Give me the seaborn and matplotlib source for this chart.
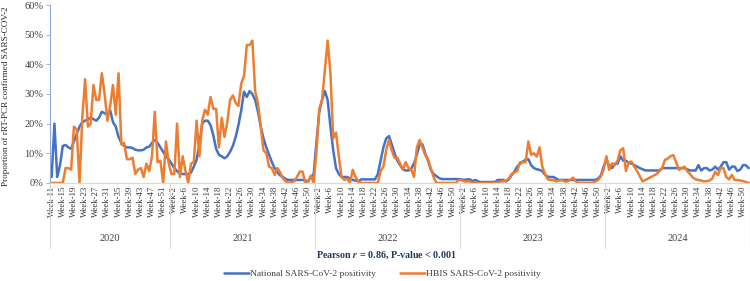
import numpy as np
import pandas as pd
import matplotlib
matplotlib.use("Agg")
import matplotlib.pyplot as plt
from matplotlib.transforms import blended_transform_factory
from matplotlib.ticker import PercentFormatter
import seaborn as sns

# Weekly positivity (%), 2020 W11 .. 2024 W52
years = [2020, 2021, 2022, 2023, 2024]
first_week = [11, 1, 1, 1, 1]
last_week = [53, 52, 52, 52, 52]

national_2020 = [2, 20, 2, 6, 12.5, 12.8, 12, 11.5, 14, 16.5, 19, 20.5, 21, 21.5, 22,
                 21.5, 21, 22, 24, 23.5, 23, 24.5, 20.5, 19, 15.5, 13.5, 12.5, 12, 12,
                 11.8, 11.2, 11, 11, 11.2, 12, 12.2, 13.5, 14.5, 13.5, 12, 10.5, 9, 8]
national_2021 = [6.5, 5, 4, 3.2, 3, 3, 3, 3.5, 5.5, 7.8, 13, 20, 21, 21, 19.5, 16, 11.5,
                 9.5, 9, 8.3, 9, 10.5, 12.5, 15.5, 19.5, 24.5, 30.8, 29, 31, 30, 28, 24,
                 19, 15, 12, 9.5, 7, 5, 3.6, 2.5, 2, 1.3, 1, 1, 1, 1, 1, 1, 0.8, 0.5, 2, 3]
national_2022 = [14, 24, 28, 31, 28, 19, 11, 5, 3, 2, 2, 2, 1.5, 1, 0.8, 0.5, 1.2, 1.2,
                 1.2, 1.2, 1.2, 1.2, 3, 7.5, 12, 15, 15.8, 13, 10, 7.5, 6, 4.6, 4.2, 4.2,
                 4.8, 6.6, 9.5, 13, 13, 10, 7.5, 4.5, 3, 2.3, 1.6, 1.3, 1.3, 1.3, 1.3,
                 1.3, 1.3, 1.3]
national_2023 = [1.2, 1, 1.2, 1.2, 0.6, 1, 0.5, 0.3, 0.3, 0.3, 0.3, 0.3, 0.3, 1, 1, 1,
                 0.5, 1.2, 2.7, 3.8, 5.5, 6.5, 7.2, 7.8, 8, 6, 5, 4.6, 4.4, 4, 2.7, 2.1,
                 2, 2, 1.5, 1, 1, 1, 1, 1, 1, 1, 1, 1, 1, 1, 1, 1, 1, 1.5, 2.5, 5.5]
national_2024 = [8, 5.5, 5, 6.5, 6.5, 9, 7.5, 7.5, 6.8, 6.5, 6, 5.5, 5, 4.6, 4.2, 4.2,
                 4.2, 4.2, 4.2, 4.2, 5, 5, 5, 5, 5, 5, 5, 5, 5, 4.6, 4.2, 4.2, 4.2, 6,
                 4.2, 5, 5, 4.2, 4.5, 5.5, 4.5, 5.5, 7, 7, 4.5, 5.5, 5.5, 4, 4.5, 6, 6, 5]

hbis_2020 = [0, 0, 0, 0, 0, 5, 5, 4.5, 19, 18, 0, 22, 35, 19, 20, 33, 28, 28, 37, 30,
             21, 26, 33, 23, 37, 13, 13.5, 8, 8, 8.5, 3, 4.5, 5, 2, 6.5, 4, 9, 24, 7,
             7.5, 0, 14, 6.5]
hbis_2021 = [3, 3, 20, 2, 9, 4, 0, 6.5, 7, 21, 9, 21, 24.7, 23, 29, 25, 25, 12, 22,
             15.5, 20.5, 28, 29.5, 27, 26, 33.5, 36, 46.5, 46.5, 48, 31, 27, 19, 11, 10,
             5.5, 5, 2.7, 5, 3.5, 1.5, 0.5, 0, 0.3, 0.5, 2, 3.8, 3.8, 0, 0.5, 2.5, 0]
hbis_2022 = [11, 25, 28, 38, 48, 37, 15, 17, 9, 2, 1, 1.5, 0, 4.4, 2, 0.5, 0, 0, 0, 0,
             0, 0, 0, 4, 5.5, 11, 14.5, 11, 8.5, 8.5, 6.5, 4.5, 7, 5, 4.4, 2, 12, 14.5,
             12, 9.4, 8, 5, 2, 0, 0, 0, 0, 0, 0, 0, 0, 1]
hbis_2023 = [1, 0.5, 0.5, 0.5, 0, 0, 0, 0, 0, 0, 0, 0, 0, 0, 0.5, 0.5, 0.8, 1.5, 3, 3.5,
             4, 7, 7, 7, 14, 9.5, 10, 8.9, 12, 5.5, 3, 1.2, 1, 1, 0.5, 0.8, 1, 0.5, 0.5,
             1, 1.8, 0.5, 0, 0, 0, 0, 0, 0, 0.5, 1, 2.2, 4.5]
hbis_2024 = [9, 4.4, 6.6, 6, 7.5, 11, 11.7, 4, 7, 7.2, 5.5, 4, 2.2, 0.5, 1, 1.5, 2, 2.5,
             3, 4, 5, 7.8, 8.2, 9, 9.4, 7, 4.4, 5, 5.5, 4, 3, 1.8, 1.2, 1, 0.8, 0.5, 0.6,
             0.8, 1.5, 3.8, 2.7, 5, 5, 2, 1.2, 2.7, 1, 1, 0.8, 0.6, 0.3, 0]

national = national_2020 + national_2021 + national_2022 + national_2023 + national_2024
hbis = hbis_2020 + hbis_2021 + hbis_2022 + hbis_2023 + hbis_2024

label_nat = "National SARS-CoV-2 positivity"
label_hbis = "HBIS SARS-CoV-2 positivity"

# category axis: one slot per week
week_labels, year_of = [], []
for y, w0, w1 in zip(years, first_week, last_week):
    for w in range(w0, w1 + 1):
        week_labels.append(f"Week-{w}")
        year_of.append(y)
n = len(week_labels)

df = pd.DataFrame({"idx": np.arange(n), "year": year_of, "week": week_labels,
                   label_nat: national, label_hbis: hbis})
long_df = df.melt(id_vars=["idx", "year", "week"], value_vars=[label_nat, label_hbis],
                  var_name="series", value_name="value")

sns.set_style("white")
plt.rcParams["font.family"] = ["Liberation Serif", "DejaVu Serif"]
plt.rcParams["mathtext.fontset"] = "stix"

text_col = "#404040"
fig = plt.figure(figsize=(7.5, 2.81), dpi=100)
ax = fig.add_axes([0.067, 0.349, 0.933, 0.633])

sns.lineplot(data=long_df, x="idx", y="value", hue="series",
             palette={label_nat: "#4472C4", label_hbis: "#ED7D31"},
             linewidth=1.8, ax=ax)

ax.set_xlim(-0.5, n - 0.5)
ax.set_ylim(0, 60)
ax.yaxis.set_major_formatter(PercentFormatter(decimals=0))
ax.set_yticks(range(0, 61, 10))
ax.tick_params(axis="y", length=3, width=0.6, color="#8EA9DB", pad=2,
               labelsize=7.5, labelcolor=text_col, left=True)
ax.set_xticks(range(0, n, 4))
ax.set_xticklabels(week_labels[::4], rotation=90, fontsize=6.3, color="#333333")
ax.tick_params(axis="x", length=0, pad=2)
ax.set_xlabel("")
ax.set_ylabel("Proportion of rRT-PCR confirmed SARS-COV-2", fontsize=6.6, color="#262626",
              labelpad=7)
ax.yaxis.set_label_coords(-0.058, 0.49)

for s in ["top", "right"]:
    ax.spines[s].set_visible(False)
ax.spines["left"].set_color("#8EA9DB")
ax.spines["left"].set_linewidth(0.8)
ax.spines["bottom"].set_color("#D9D9D9")
ax.spines["bottom"].set_linewidth(0.8)

# year group row with separators
tr = blended_transform_factory(ax.transData, ax.transAxes)
bounds = [-0.5]
for y in years:
    bounds.append(bounds[-1] + year_of.count(y))
for b in bounds:
    ax.plot([b, b], [0, -0.365], transform=tr, color="#D9D9D9", lw=0.8, clip_on=False)
for y, a, b in zip(years, bounds[:-1], bounds[1:]):
    ax.text((a + b) / 2, -0.315, str(y), transform=tr, ha="center", va="center",
            fontsize=7.5, color=text_col)

fig.text(0.515, 0.09, r"Pearson $\mathbfit{r}$ = 0.86, P-value < 0.001",
         ha="center", va="center", fontsize=7.2, fontweight="bold", color="#1F3864")

handles, labels = ax.get_legend_handles_labels()
ax.get_legend().remove()
fig.legend(handles, labels, loc="center", bbox_to_anchor=(0.51, 0.025), ncol=2,
           frameon=False, fontsize=6.8, handlelength=2.6, handletextpad=0.1,
           columnspacing=2.6, labelcolor=text_col)

fig.savefig("out.png", dpi=100)
